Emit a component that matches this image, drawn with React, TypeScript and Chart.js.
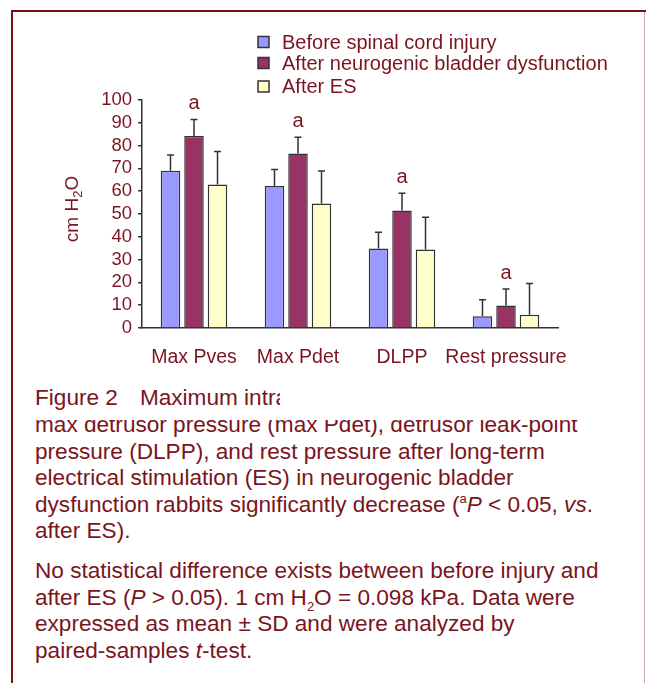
import React, { useEffect, useRef } from 'react';
import { Chart, registerables } from 'chart.js';

Chart.register(...registerables);

// ---------- data ----------
const categories = ['Max Pves', 'Max Pdet', 'DLPP', 'Rest pressure'];
const seriesLabels = ['Before spinal cord injury', 'After neurogenic bladder dysfunction', 'After ES'];
const beforeMean = [69.0, 62.3, 34.9, 5.1];
const beforeSD = [6.9, 7.2, 7.1, 7.3];
const afterMean = [84.2, 76.5, 51.5, 9.9];
const afterSD = [7.2, 7.2, 7.6, 7.2];
const esMean = [62.9, 54.6, 34.4, 5.8];
const esSD = [14.5, 14.3, 14.2, 13.7];
const significance = ['a', 'a', 'a', 'a'];
const yMin = 0;
const yMax = 100;
const yStep = 10;
const yTitleMain = 'cm H';
const yTitleSub = '2';
const yTitleEnd = 'O';

// ---------- styles ----------
const FONT = '"Liberation Sans", Arial, Helvetica, sans-serif';
const TEXT = '#7a1420';
const LINE = '#333333';
const barColors = ['#9999FF', '#993366', '#FFFFCC'];

const overlayPlugin = {
  id: 'overlayPlugin',
  afterDatasetsDraw(chart: any) {
    const ctx = chart.ctx;
    const ys = chart.scales.y;
    ctx.save();
    // error bars + significance marks
    chart.data.datasets.forEach((ds: any, i: number) => {
      const meta = chart.getDatasetMeta(i);
      meta.data.forEach((el: any, j: number) => {
        const top = ys.getPixelForValue(ds.data[j] + ds.sd[j]);
        ctx.strokeStyle = LINE;
        ctx.lineWidth = 1.5;
        ctx.beginPath();
        ctx.moveTo(el.x, el.y);
        ctx.lineTo(el.x, top);
        ctx.moveTo(el.x - 3.5, top);
        ctx.lineTo(el.x + 3.5, top);
        ctx.stroke();
        if (ds.sig && ds.sig[j]) {
          ctx.fillStyle = TEXT;
          ctx.font = `20px ${FONT}`;
          ctx.textAlign = 'center';
          ctx.textBaseline = 'middle';
          ctx.fillText(ds.sig[j], el.x, top - 16);
        }
      });
    });
    // legend
    const lx = 258;
    const rows = [42, 63, 86.5];
    chart.data.datasets.forEach((ds: any, i: number) => {
      const cy = rows[i];
      ctx.fillStyle = ds.backgroundColor;
      ctx.fillRect(lx, cy - 5.5, 11, 11);
      ctx.strokeStyle = LINE;
      ctx.lineWidth = 1.5;
      ctx.strokeRect(lx, cy - 5.5, 11, 11);
      ctx.fillStyle = TEXT;
      ctx.font = `20px ${FONT}`;
      ctx.textAlign = 'left';
      ctx.textBaseline = 'middle';
      ctx.fillText(ds.label, 282, cy + 1);
    });
    // y axis title with subscript
    ctx.translate(73, 209);
    ctx.rotate(-Math.PI / 2);
    ctx.fillStyle = TEXT;
    ctx.textBaseline = 'middle';
    ctx.textAlign = 'left';
    ctx.font = `19px ${FONT}`;
    const w1 = ctx.measureText(yTitleMain).width;
    ctx.font = `13px ${FONT}`;
    const w2 = ctx.measureText(yTitleSub).width;
    ctx.font = `19px ${FONT}`;
    const w3 = ctx.measureText(yTitleEnd).width;
    const total = w1 + w2 + w3;
    let x0 = -total / 2;
    ctx.fillText(yTitleMain, x0, 0);
    x0 += w1;
    ctx.font = `13px ${FONT}`;
    ctx.fillText(yTitleSub, x0, 5);
    x0 += w2;
    ctx.font = `19px ${FONT}`;
    ctx.fillText(yTitleEnd, x0, 0);
    ctx.restore();
  },
};

function ChartCanvas() {
  const ref = useRef<HTMLCanvasElement | null>(null);
  useEffect(() => {
    if (!ref.current) return;
    const means = [beforeMean, afterMean, esMean];
    const sds = [beforeSD, afterSD, esSD];
    const chart = new Chart(ref.current, {
      type: 'bar',
      data: {
        labels: categories,
        datasets: seriesLabels.map((label, i) => ({
          label,
          data: means[i],
          sd: sds[i],
          sig: i === 1 ? significance : null,
          backgroundColor: barColors[i],
          borderColor: LINE,
          borderWidth: 1.5,
          categoryPercentage: 0.678,
          barPercentage: 0.83,
        })) as any,
      },
      options: {
        responsive: false,
        animation: false,
        devicePixelRatio: 1,
        layout: { padding: { left: 0, right: 88, top: 100, bottom: 0 } },
        plugins: { legend: { display: false }, tooltip: { enabled: false } },
        scales: {
          x: {
            grid: { display: false, drawTicks: false, tickLength: 0 },
            border: { display: true, color: LINE, width: 1.5 },
            ticks: {
              color: TEXT,
              font: { family: FONT, size: 19.5 },
              padding: 18,
              autoSkip: false,
              maxRotation: 0,
              minRotation: 0,
            },
            afterFit: (s: any) => { s.height = 52; },
          },
          y: {
            min: yMin,
            max: yMax,
            grid: { display: true, drawOnChartArea: false, drawTicks: true, tickLength: 4, color: LINE, lineWidth: 1.5 },
            border: { display: true, color: LINE, width: 1.5 },
            ticks: { stepSize: yStep, color: TEXT, font: { family: FONT, size: 18.5 }, padding: 6, autoSkip: false },
            afterFit: (s: any) => { s.width = 142; },
          },
        },
      } as any,
      plugins: [overlayPlugin],
    });
    return () => chart.destroy();
  }, []);
  return <canvas ref={ref} width={646} height={380} style={{ position: 'absolute', left: 0, top: 0, width: 646, height: 380 }} />;
}

const lineStyle: React.CSSProperties = {
  height: 26.6,
  lineHeight: '26.6px',
  whiteSpace: 'nowrap',
};
const supStyle: React.CSSProperties = { fontSize: 13, verticalAlign: 'super', lineHeight: 0 };
const subStyle: React.CSSProperties = { fontSize: 13, verticalAlign: 'sub', lineHeight: 0 };
const CAP = 22.6;

export default function App() {
  return (
    <div
      style={{
        position: 'absolute',
        left: 0,
        top: 0,
        width: 646,
        height: 683,
        overflow: 'hidden',
        background: '#ffffff',
        fontFamily: FONT,
        color: TEXT,
      }}
    >
      {/* frame */}
      <div style={{ position: 'absolute', left: 11, top: 10, width: 635, height: 2, background: '#7a0c16' }} />
      <div style={{ position: 'absolute', left: 11, top: 10, width: 2, height: 673, background: '#7a0c16' }} />
      <div style={{ position: 'absolute', left: 644, top: 12, width: 1, height: 671, background: '#c9acb6' }} />

      <ChartCanvas />

      {/* caption line 1 (clipped on the right) */}
      <div style={{ position: 'absolute', left: 35, top: 385, width: 245, overflow: 'hidden', fontSize: CAP, ...lineStyle }}>
        Figure 2<span style={{ display: 'inline-block', width: 22 }} />Maximum intra
      </div>

      {/* caption paragraph 1 (top of first line clipped) */}
      <div style={{ position: 'absolute', left: 35, top: 420, width: 605, height: 125, overflow: 'hidden', fontSize: CAP }}>
        <div style={{ marginTop: -8 }}>
          <div style={lineStyle}>max detrusor pressure (max Pdet), detrusor leak-point</div>
          <div style={lineStyle}>pressure (DLPP), and rest pressure after long-term</div>
          <div style={lineStyle}>electrical stimulation (ES) in neurogenic bladder</div>
          <div style={lineStyle}>
            dysfunction rabbits significantly decrease (<span style={supStyle}>a</span><i>P</i> &lt; 0.05, <i>vs</i>.
          </div>
          <div style={lineStyle}>after ES).</div>
        </div>
      </div>

      {/* caption paragraph 2 */}
      <div style={{ position: 'absolute', left: 35, top: 558, width: 605, fontSize: CAP }}>
        <div style={lineStyle}>No statistical difference exists between before injury and</div>
        <div style={lineStyle}>
          after ES (<i>P</i> &gt; 0.05). 1 cm H<span style={subStyle}>2</span>O = 0.098 kPa. Data were
        </div>
        <div style={lineStyle}>expressed as mean ± SD and were analyzed by</div>
        <div style={lineStyle}>
          paired-samples <i>t</i>-test.
        </div>
      </div>
    </div>
  );
}
